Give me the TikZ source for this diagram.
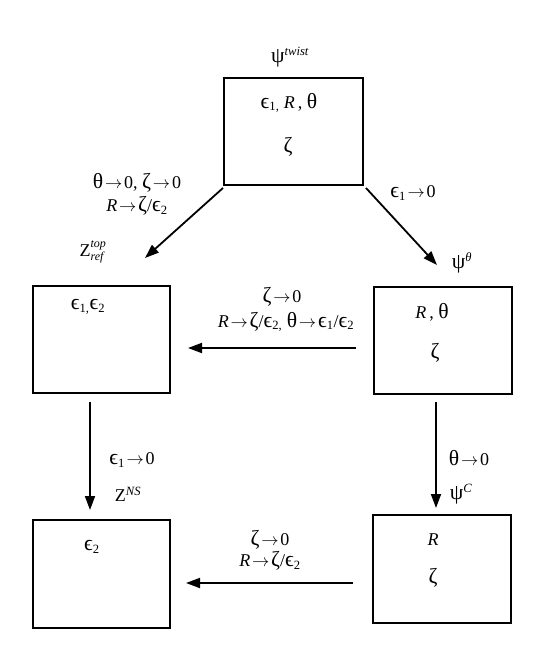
\documentclass[tikz,border=0pt]{standalone}
\usepackage{fontspec}
\setmainfont{Liberation Serif}
\newfontfamily\gkf{Liberation Serif}[Scale=1.2]
\usetikzlibrary{arrows.meta}
\newcommand\sbx[1]{\textsubscript{#1}}
\newcommand\spx[1]{\textsuperscript{\itshape #1}}
\newcommand\arw{\hspace{0.1em}$\to$\hspace{0.1em}}
\newcommand\Gth{{\gkf θ}}
\newcommand\Gze{{\gkf ζ}}
\newcommand\Gep{{\gkf ϵ}}
\newcommand\Gps{{\gkf ψ}}
\begin{document}
\begin{tikzpicture}[x=1pt,y=-1pt,
  font=\fontsize{18}{21}\selectfont,
  box/.style={draw, line width=1.8pt, minimum width=138pt, minimum height=107pt, inner sep=0pt, anchor=north west},
  arr/.style={line width=1.8pt, -{Triangle[length=14pt,width=10pt]}},
  lbl/.style={inner sep=0pt, align=center}]
\useasboundingbox (0,0) rectangle (545,654);

% boxes
\node[box, minimum width=139pt] (top) at (223,77) {};
\node[box, minimum width=137pt] (lm) at (32,285) {};
\node[box] (rm) at (373,286) {};
\node[box, minimum width=137pt, minimum height=108pt] (bl) at (32,519) {};
\node[box, minimum height=108pt] (br) at (372,514) {};

% box contents
\node[lbl] (topa) at (289,103) {\Gep\sbx{1,} \textit{R}\,, \Gth};
\node[lbl] (topb) at (288,147) {\Gze};
\node[lbl] (lma) at (88,307) {\Gep\sbx{1,}\Gep\sbx{2}};
\node[lbl] (rma) at (432,312) {\textit{R}\,, \Gth};
\node[lbl] (rmb) at (435,353) {\Gze};
\node[lbl] (bla) at (92,547) {\Gep\sbx{2}};
\node[lbl] (bra) at (433,540) {\textit{R}};
\node[lbl] (brb) at (433,578) {\Gze};

% box names
\node[lbl] (ntop) at (290,57) {\Gps\spx{twist}};
\node[lbl] (nlm) at (93,252) {Z$^{\mbox{\fontsize{12}{14}\selectfont\itshape top}}_{\mbox{\fontsize{12}{14}\selectfont\itshape ref}}$};
\node[lbl] (nrm) at (462,263) {\Gps\spx{θ}};
\node[lbl] (nbl) at (128,494) {Z\spx{NS}};
\node[lbl] (nbr) at (461,494) {\Gps\spx{C}};

% arrow labels
\node[lbl] (l1a) at (137,183) {\Gth\arw 0, \Gze\arw 0};
\node[lbl] (l1b) at (137,206) {\textit{R}\arw \Gze/\Gep\sbx{2}};
\node[lbl] (l2) at (413,193) {\Gep\sbx{1}\arw 0};
\node[lbl] (l3a) at (282,297) {\Gze\arw 0};
\node[lbl] (l3b) at (286,322) {\textit{R}\arw \Gze/\Gep\sbx{2,} \Gth\arw \Gep\sbx{1}/\Gep\sbx{2}};
\node[lbl] (l4) at (132,460) {\Gep\sbx{1}\arw 0};
\node[lbl] (l5) at (469,458) {\Gth\arw 0};
\node[lbl] (l6a) at (270,540) {\Gze\arw 0};
\node[lbl] (l6b) at (270,561) {\textit{R}\arw \Gze/\Gep\sbx{2}};

% arrow end points
\coordinate (a1s) at (223,188); \coordinate (a1e) at (145,258);
\coordinate (a2s) at (366,188); \coordinate (a2e) at (437,265);
\coordinate (a3s) at (356,348); \coordinate (a3e) at (188,348);
\coordinate (a4s) at (90,402);  \coordinate (a4e) at (90,510);
\coordinate (a5s) at (436,402); \coordinate (a5e) at (436,508);
\coordinate (a6s) at (353,583); \coordinate (a6e) at (186,583);

\draw[arr] (a1s) -- (a1e);
\draw[arr] (a2s) -- (a2e);
\draw[arr] (a3s) -- (a3e);
\draw[arr] (a4s) -- (a4e);
\draw[arr] (a5s) -- (a5e);
\draw[arr] (a6s) -- (a6e);
\end{tikzpicture}
\end{document}
